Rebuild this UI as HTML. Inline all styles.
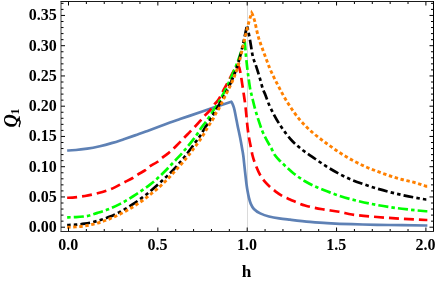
<!DOCTYPE html>
<html><head><meta charset="utf-8"><title>plot</title>
<style>
html,body{margin:0;padding:0;background:#fff;}
body{width:436px;height:281px;overflow:hidden;}
svg{display:block;}
text{font-family:"Liberation Serif",serif;font-weight:bold;fill:#000;}
</style></head><body>
<svg width="436" height="281" viewBox="0 0 436 281">
<rect width="436" height="281" fill="#fff"/>
<line x1="247.50" y1="1.50" x2="247.50" y2="231.50" stroke="#d6d6d6" stroke-width="0.9"/>
<g>
<path d="M67.15 150.50 L68.50 150.50 C71.00 150.39 73.50 150.21 76.00 150.00 C79.73 149.68 83.47 149.16 87.20 148.60 C91.40 147.97 95.60 147.13 99.80 146.20 C104.00 145.27 108.20 144.12 112.40 142.90 C116.20 141.80 120.00 140.46 123.80 139.20 C127.53 137.96 131.27 136.70 135.00 135.40 C139.17 133.95 143.33 132.42 147.50 130.90 C151.67 129.38 155.83 127.84 160.00 126.30 C163.33 125.07 166.67 123.80 170.00 122.60 C173.33 121.40 176.67 120.26 180.00 119.10 C183.40 117.92 186.80 116.76 190.20 115.60 C197.77 113.02 205.33 110.46 212.90 107.90 C219.03 105.83 225.17 103.76 231.30 101.70 C232.17 102.48 233.03 104.91 233.90 107.60 C234.53 109.56 235.17 113.30 235.80 116.40 C236.37 119.17 236.93 122.38 237.50 125.20 C238.37 129.51 239.23 133.17 240.10 137.60 C240.87 141.51 241.63 145.78 242.40 150.20 C242.67 151.74 242.93 153.11 243.20 155.00 C243.67 158.30 244.13 163.40 244.60 167.60 C245.07 171.80 245.53 176.28 246.00 180.20 C246.20 181.88 246.40 183.58 246.60 185.00 C246.93 187.37 247.27 189.46 247.60 191.30 C248.03 193.69 248.47 195.87 248.90 197.60 C249.53 200.12 250.17 202.47 250.80 203.90 C251.83 206.24 252.87 207.94 253.90 209.00 C256.00 211.16 258.10 212.40 260.20 213.40 C263.13 214.80 266.07 215.78 269.00 216.50 C272.37 217.33 275.73 217.91 279.10 218.40 C282.73 218.93 286.37 219.29 290.00 219.70 C296.67 220.45 303.33 221.21 310.00 221.80 C315.67 222.30 321.33 222.78 327.00 223.10 C335.33 223.57 343.67 223.94 352.00 224.20 C360.33 224.46 368.67 224.64 377.00 224.80 C385.33 224.96 393.67 225.08 402.00 225.20 C410.00 225.31 418.00 225.41 426.00 225.50 L427.35 225.50" fill="none" stroke="#5E81B5" stroke-width="2.7" stroke-linecap="butt" stroke-linejoin="miter"/>
<path d="M67.15 197.75 L68.50 197.75 C74.00 197.52 79.50 196.80 85.00 196.00 C89.17 195.39 93.33 194.31 97.50 193.25 C101.67 192.19 105.83 191.06 110.00 189.50 C114.83 187.69 119.67 184.66 124.50 182.20 C127.23 180.81 129.97 179.62 132.70 178.00 C134.37 177.01 136.03 175.65 137.70 174.60 C140.23 173.01 142.77 171.99 145.30 170.20 C146.77 169.17 148.23 167.44 149.70 166.40 C152.20 164.62 154.70 163.76 157.20 162.00 C158.70 160.95 160.20 159.41 161.70 158.20 C164.20 156.19 166.70 154.59 169.20 152.50 C171.60 150.49 174.00 148.14 176.40 145.80 C180.13 142.15 183.87 138.05 187.60 134.20 C190.10 131.62 192.60 129.18 195.10 126.50 C196.80 124.68 198.50 122.72 200.20 120.80 C201.87 118.92 203.53 116.86 205.20 115.10 C206.90 113.31 208.60 112.05 210.30 110.10 C211.83 108.34 213.37 105.66 214.90 103.80 C215.87 102.63 216.83 101.89 217.80 100.60 C219.93 97.76 222.07 92.95 224.20 89.00 C226.27 85.18 228.33 81.19 230.40 77.30 C232.10 74.10 233.80 70.35 235.50 67.70 C236.20 66.61 236.90 65.66 237.60 64.80 C238.13 64.92 238.67 66.18 239.20 67.50 C239.60 68.49 240.00 70.60 240.40 72.60 C241.00 75.60 241.60 80.03 242.20 83.90 C242.83 87.98 243.47 92.15 244.10 96.50 C244.50 99.25 244.90 101.75 245.30 105.00 C245.70 108.25 246.10 112.39 246.50 116.40 C246.83 119.75 247.17 124.14 247.50 127.00 C248.00 131.30 248.50 134.62 249.00 137.60 C249.83 142.57 250.67 145.86 251.50 150.20 C251.80 151.76 252.10 153.76 252.40 155.00 C253.33 158.86 254.27 161.32 255.20 163.80 C256.90 168.32 258.60 172.30 260.30 175.20 C261.97 178.04 263.63 180.17 265.30 182.10 C267.00 184.07 268.70 185.67 270.40 187.20 C272.07 188.70 273.73 190.07 275.40 191.30 C277.90 193.15 280.40 194.96 282.90 196.30 C285.27 197.57 287.63 198.49 290.00 199.50 C295.00 201.63 300.00 204.09 305.00 205.50 C310.83 207.14 316.67 208.22 322.50 209.25 C328.00 210.22 333.50 210.77 339.00 211.75 C343.33 212.52 347.67 213.89 352.00 214.50 C360.33 215.68 368.67 216.31 377.00 217.00 C385.33 217.69 393.67 218.25 402.00 218.75 C410.00 219.23 418.00 219.65 426.00 220.00 L427.35 220.00" fill="none" stroke="#FF0000" stroke-width="2.7" stroke-linecap="butt" stroke-linejoin="miter" stroke-dasharray="10 4.99" stroke-dashoffset="0"/>
<path d="M67.15 217.30 L68.50 217.30 C71.00 217.29 73.50 217.20 76.00 217.10 C79.00 216.98 82.00 216.75 85.00 216.40 C89.17 215.91 93.33 214.16 97.50 212.90 C100.87 211.88 104.23 210.87 107.60 209.60 C111.80 208.02 116.00 206.05 120.20 203.90 C124.40 201.75 128.60 199.14 132.80 196.50 C137.00 193.86 141.20 190.98 145.40 188.00 C146.93 186.91 148.47 185.79 150.00 184.60 C152.20 182.90 154.40 181.13 156.60 179.20 C159.53 176.62 162.47 173.75 165.40 170.80 C167.17 169.02 168.93 167.05 170.70 165.20 C173.43 162.34 176.17 159.68 178.90 156.70 C181.00 154.41 183.10 151.99 185.20 149.50 C187.73 146.49 190.27 143.42 192.80 140.10 C194.47 137.92 196.13 135.69 197.80 133.20 C198.80 131.71 199.80 129.84 200.80 128.40 C202.27 126.29 203.73 124.69 205.20 122.70 C206.67 120.70 208.13 118.60 209.60 116.40 C211.07 114.20 212.53 111.75 214.00 109.50 C215.27 107.56 216.53 105.82 217.80 103.80 C218.43 102.79 219.07 101.75 219.70 100.60 C225.13 90.70 230.57 79.47 236.00 66.00 C238.90 58.81 241.80 50.09 244.70 41.00 C245.10 46.05 245.50 50.76 245.90 55.00 C246.33 59.59 246.77 63.88 247.20 67.60 C247.63 71.32 248.07 74.50 248.50 77.60 C249.13 82.13 249.77 87.10 250.40 90.20 C250.80 92.16 251.20 93.39 251.60 95.00 C252.63 99.16 253.67 103.81 254.70 107.60 C255.97 112.24 257.23 116.30 258.50 120.20 C259.63 123.69 260.77 127.19 261.90 130.00 C263.07 132.89 264.23 135.28 265.40 137.60 C267.50 141.78 269.60 145.06 271.70 149.00 C272.73 150.94 273.77 153.49 274.80 155.00 C276.67 157.73 278.53 159.38 280.40 161.30 C281.93 162.88 283.47 164.27 285.00 165.70 C287.50 168.03 290.00 170.50 292.50 172.50 C296.67 175.83 300.83 178.82 305.00 181.25 C309.17 183.68 313.33 185.67 317.50 187.50 C320.67 188.89 323.83 190.03 327.00 191.25 C331.00 192.79 335.00 194.44 339.00 195.75 C343.33 197.17 347.67 198.40 352.00 199.50 C360.33 201.61 368.67 203.51 377.00 205.00 C385.33 206.49 393.67 207.73 402.00 208.75 C410.00 209.73 418.00 210.60 426.00 211.25 L427.35 211.25" fill="none" stroke="#00FF00" stroke-width="2.7" stroke-linecap="butt" stroke-linejoin="miter" stroke-dasharray="10.1 3.1 3.5 3.12" stroke-dashoffset="13.2"/>
<path d="M67.15 225.00 L68.50 225.00 C71.00 224.98 73.50 224.84 76.00 224.70 C79.00 224.53 82.00 224.14 85.00 223.70 C89.17 223.09 93.33 222.03 97.50 220.90 C101.70 219.76 105.90 218.26 110.10 216.60 C113.27 215.35 116.43 213.82 119.60 212.20 C121.50 211.23 123.40 210.13 125.30 209.00 C128.23 207.26 131.17 205.38 134.10 203.40 C136.83 201.55 139.57 199.52 142.30 197.50 C143.97 196.27 145.63 195.04 147.30 193.70 C151.53 190.29 155.77 186.43 160.00 182.60 C163.00 179.89 166.00 177.16 169.00 174.20 C171.93 171.31 174.87 168.27 177.80 165.00 C178.60 164.11 179.40 163.14 180.20 162.20 C181.87 160.23 183.53 158.31 185.20 156.20 C187.30 153.54 189.40 150.56 191.50 147.70 C193.20 145.39 194.90 143.04 196.60 140.70 C198.27 138.41 199.93 136.43 201.60 133.80 C202.60 132.22 203.60 130.04 204.60 128.40 C205.87 126.32 207.13 124.70 208.40 122.70 C209.67 120.71 210.93 118.53 212.20 116.40 C213.43 114.33 214.67 112.17 215.90 110.10 C217.17 107.97 218.43 105.92 219.70 103.80 C220.33 102.74 220.97 101.76 221.60 100.60 C226.73 91.16 231.87 82.05 237.00 67.00 C240.33 57.23 243.67 41.76 247.00 25.20 C248.00 29.67 249.00 34.65 250.00 40.00 C250.93 44.99 251.87 52.56 252.80 56.30 C254.07 61.37 255.33 63.63 256.60 67.60 C257.87 71.57 259.13 75.87 260.40 80.20 C261.23 83.05 262.07 86.62 262.90 89.00 C263.73 91.38 264.57 92.91 265.40 95.00 C266.67 98.17 267.93 102.17 269.20 105.00 C272.80 113.05 276.40 119.48 280.00 125.00 C284.17 131.39 288.33 136.92 292.50 141.25 C295.83 144.71 299.17 147.40 302.50 150.00 C306.67 153.25 310.83 155.90 315.00 158.75 C319.00 161.49 323.00 164.32 327.00 166.80 C331.17 169.38 335.33 171.82 339.50 174.00 C343.67 176.18 347.83 178.29 352.00 180.00 C356.17 181.71 360.33 183.07 364.50 184.50 C368.67 185.93 372.83 187.39 377.00 188.60 C385.33 191.03 393.67 193.20 402.00 195.00 C410.00 196.73 418.00 198.27 426.00 199.50 L427.35 199.50" fill="none" stroke="#000000" stroke-width="2.7" stroke-linecap="butt" stroke-linejoin="miter" stroke-dasharray="9.8 3.2 3.5 3.15 3.5 3.15" stroke-dashoffset="13.0"/>
<path d="M67.15 227.20 L68.50 227.20 C71.00 227.18 73.50 227.04 76.00 226.90 C79.00 226.73 82.00 226.34 85.00 225.90 C89.17 225.29 93.33 224.24 97.50 223.10 C101.70 221.95 105.90 220.40 110.10 218.70 C115.57 216.49 121.03 213.70 126.50 210.70 C129.87 208.85 133.23 206.71 136.60 204.50 C139.97 202.29 143.33 199.98 146.70 197.40 C148.23 196.22 149.77 194.83 151.30 193.60 C153.00 192.23 154.70 191.02 156.40 189.60 C157.87 188.38 159.33 187.05 160.80 185.70 C162.27 184.35 163.73 182.95 165.20 181.50 C166.67 180.05 168.13 178.56 169.60 177.00 C170.87 175.65 172.13 174.19 173.40 172.80 C174.87 171.19 176.33 169.61 177.80 168.00 C179.07 166.61 180.33 165.25 181.60 163.80 C182.67 162.58 183.73 161.29 184.80 160.00 C186.20 158.30 187.60 156.59 189.00 154.80 C191.53 151.56 194.07 148.24 196.60 144.70 C198.87 141.53 201.13 138.30 203.40 134.70 C204.63 132.74 205.87 130.43 207.10 128.40 C208.17 126.65 209.23 125.01 210.30 123.30 C211.33 121.64 212.37 120.17 213.40 118.30 C214.23 116.79 215.07 114.68 215.90 113.20 C216.97 111.30 218.03 110.08 219.10 108.20 C219.93 106.73 220.77 104.87 221.60 103.20 C222.03 102.33 222.47 101.50 222.90 100.60 C227.77 90.49 232.63 82.48 237.50 68.00 C240.00 60.56 242.50 47.57 245.00 37.50 C246.25 32.46 247.50 26.94 248.75 22.50 C249.73 19.01 250.72 15.83 251.70 13.00 C252.73 14.57 253.77 17.79 254.80 21.40 C255.43 23.61 256.07 27.48 256.70 30.20 C257.33 32.92 257.97 35.65 258.60 37.80 C259.67 41.42 260.73 44.02 261.80 47.00 C262.93 50.17 264.07 53.21 265.20 56.25 C266.80 60.54 268.40 65.16 270.00 68.90 C272.60 74.98 275.20 79.98 277.80 85.00 C281.03 91.24 284.27 97.38 287.50 102.50 C291.67 109.10 295.83 115.14 300.00 120.00 C304.17 124.86 308.33 128.85 312.50 132.50 C317.33 136.74 322.17 140.20 327.00 143.75 C331.17 146.81 335.33 149.81 339.50 152.50 C343.67 155.19 347.83 157.73 352.00 160.00 C356.17 162.27 360.33 164.40 364.50 166.25 C368.67 168.10 372.83 169.67 377.00 171.25 C381.17 172.83 385.33 174.39 389.50 175.75 C393.67 177.11 397.83 178.39 402.00 179.50 C406.17 180.61 410.33 181.35 414.50 182.50 C418.33 183.56 422.17 184.84 426.00 186.25 L427.35 186.25" fill="none" stroke="#FF8000" stroke-width="2.9" stroke-linecap="butt" stroke-linejoin="miter" stroke-dasharray="3.45 2.615" stroke-dashoffset="0"/>
</g>
<g stroke="#000" stroke-width="1" fill="none">
<path d="M68.50 231.50 v-4.00 M68.50 1.50 v4.00"/>
<path d="M86.37 231.50 v-2.50 M86.37 1.50 v2.50"/>
<path d="M104.24 231.50 v-2.50 M104.24 1.50 v2.50"/>
<path d="M122.11 231.50 v-2.50 M122.11 1.50 v2.50"/>
<path d="M139.98 231.50 v-2.50 M139.98 1.50 v2.50"/>
<path d="M157.85 231.50 v-4.00 M157.85 1.50 v4.00"/>
<path d="M175.72 231.50 v-2.50 M175.72 1.50 v2.50"/>
<path d="M193.59 231.50 v-2.50 M193.59 1.50 v2.50"/>
<path d="M211.46 231.50 v-2.50 M211.46 1.50 v2.50"/>
<path d="M229.33 231.50 v-2.50 M229.33 1.50 v2.50"/>
<path d="M247.20 231.50 v-4.00 M247.20 1.50 v4.00"/>
<path d="M265.07 231.50 v-2.50 M265.07 1.50 v2.50"/>
<path d="M282.94 231.50 v-2.50 M282.94 1.50 v2.50"/>
<path d="M300.81 231.50 v-2.50 M300.81 1.50 v2.50"/>
<path d="M318.68 231.50 v-2.50 M318.68 1.50 v2.50"/>
<path d="M336.55 231.50 v-4.00 M336.55 1.50 v4.00"/>
<path d="M354.42 231.50 v-2.50 M354.42 1.50 v2.50"/>
<path d="M372.29 231.50 v-2.50 M372.29 1.50 v2.50"/>
<path d="M390.16 231.50 v-2.50 M390.16 1.50 v2.50"/>
<path d="M408.03 231.50 v-2.50 M408.03 1.50 v2.50"/>
<path d="M425.90 231.50 v-4.00 M425.90 1.50 v4.00"/>
<path d="M61.00 227.20 h4.00 M433.50 227.20 h-4.00"/>
<path d="M61.00 221.15 h2.50 M433.50 221.15 h-2.50"/>
<path d="M61.00 215.10 h2.50 M433.50 215.10 h-2.50"/>
<path d="M61.00 209.05 h2.50 M433.50 209.05 h-2.50"/>
<path d="M61.00 203.00 h2.50 M433.50 203.00 h-2.50"/>
<path d="M61.00 196.95 h4.00 M433.50 196.95 h-4.00"/>
<path d="M61.00 190.90 h2.50 M433.50 190.90 h-2.50"/>
<path d="M61.00 184.85 h2.50 M433.50 184.85 h-2.50"/>
<path d="M61.00 178.80 h2.50 M433.50 178.80 h-2.50"/>
<path d="M61.00 172.75 h2.50 M433.50 172.75 h-2.50"/>
<path d="M61.00 166.70 h4.00 M433.50 166.70 h-4.00"/>
<path d="M61.00 160.65 h2.50 M433.50 160.65 h-2.50"/>
<path d="M61.00 154.60 h2.50 M433.50 154.60 h-2.50"/>
<path d="M61.00 148.55 h2.50 M433.50 148.55 h-2.50"/>
<path d="M61.00 142.50 h2.50 M433.50 142.50 h-2.50"/>
<path d="M61.00 136.45 h4.00 M433.50 136.45 h-4.00"/>
<path d="M61.00 130.40 h2.50 M433.50 130.40 h-2.50"/>
<path d="M61.00 124.35 h2.50 M433.50 124.35 h-2.50"/>
<path d="M61.00 118.30 h2.50 M433.50 118.30 h-2.50"/>
<path d="M61.00 112.25 h2.50 M433.50 112.25 h-2.50"/>
<path d="M61.00 106.20 h4.00 M433.50 106.20 h-4.00"/>
<path d="M61.00 100.15 h2.50 M433.50 100.15 h-2.50"/>
<path d="M61.00 94.10 h2.50 M433.50 94.10 h-2.50"/>
<path d="M61.00 88.05 h2.50 M433.50 88.05 h-2.50"/>
<path d="M61.00 82.00 h2.50 M433.50 82.00 h-2.50"/>
<path d="M61.00 75.95 h4.00 M433.50 75.95 h-4.00"/>
<path d="M61.00 69.90 h2.50 M433.50 69.90 h-2.50"/>
<path d="M61.00 63.85 h2.50 M433.50 63.85 h-2.50"/>
<path d="M61.00 57.80 h2.50 M433.50 57.80 h-2.50"/>
<path d="M61.00 51.75 h2.50 M433.50 51.75 h-2.50"/>
<path d="M61.00 45.70 h4.00 M433.50 45.70 h-4.00"/>
<path d="M61.00 39.65 h2.50 M433.50 39.65 h-2.50"/>
<path d="M61.00 33.60 h2.50 M433.50 33.60 h-2.50"/>
<path d="M61.00 27.55 h2.50 M433.50 27.55 h-2.50"/>
<path d="M61.00 21.50 h2.50 M433.50 21.50 h-2.50"/>
<path d="M61.00 15.45 h4.00 M433.50 15.45 h-4.00"/>
<path d="M61.00 9.40 h2.50 M433.50 9.40 h-2.50"/>
<path d="M61.00 3.35 h2.50 M433.50 3.35 h-2.50"/>
</g>
<g fill="none" stroke-width="1">
<line x1="61" y1="1.5" x2="61" y2="231.5" stroke="#111" stroke-width="0.8"/>
<line x1="60.5" y1="1.5" x2="434" y2="1.5" stroke="#1a1a1a"/>
<line x1="433.5" y1="1" x2="433.5" y2="232" stroke="#000"/>
<line x1="60.5" y1="231.5" x2="434" y2="231.5" stroke="#2a2a2a"/>
</g>
<g style="filter:grayscale(1)"><g font-size="16px">
<text x="56.70" y="232.20" text-anchor="end">0.00</text>
<text x="56.70" y="201.95" text-anchor="end">0.05</text>
<text x="56.70" y="171.70" text-anchor="end">0.10</text>
<text x="56.70" y="141.45" text-anchor="end">0.15</text>
<text x="56.70" y="111.20" text-anchor="end">0.20</text>
<text x="56.70" y="80.95" text-anchor="end">0.25</text>
<text x="56.70" y="50.70" text-anchor="end">0.30</text>
<text x="56.70" y="20.45" text-anchor="end">0.35</text>
<text x="68.20" y="249.70" text-anchor="middle">0.0</text>
<text x="157.55" y="249.70" text-anchor="middle">0.5</text>
<text x="246.90" y="249.70" text-anchor="middle">1.0</text>
<text x="336.25" y="249.70" text-anchor="middle">1.5</text>
<text x="425.60" y="249.70" text-anchor="middle">2.0</text>
</g>
<text transform="translate(16.5,127.4) rotate(-90)" font-size="18.5px" font-style="italic">Q</text>
<text transform="translate(18.9,114.6) rotate(-90)" font-size="12px">1</text>
<path d="M17.7 119.2 C19.5 120 20.5 121.4 20.1 123 C19.7 124.6 18.9 125.4 19.3 126.6" fill="none" stroke="#000" stroke-width="1.3" stroke-linecap="round"/>
<text x="246.5" y="276.7" font-size="17.2px" text-anchor="middle">h</text></g>
</svg>
</body></html>
